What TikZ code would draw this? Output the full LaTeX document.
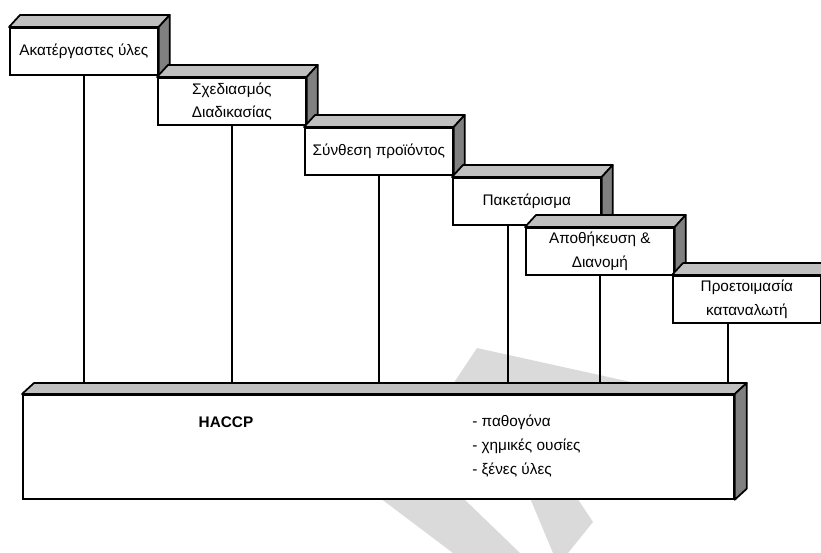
\documentclass[tikz,border=0pt]{standalone}
\usepackage{fontspec}
\setmainfont{Liberation Sans}
\usepackage{xcolor}
\usetikzlibrary{calc}

\definecolor{topgray}{RGB}{192,192,192}
\definecolor{sidegray}{RGB}{128,128,128}
\definecolor{markgray}{RGB}{218,218,218}

\tikzset{
  stepbox/.style={draw, line width=1.3pt, fill=white, minimum width=111pt, minimum height=35.25pt,
    inner sep=0pt, align=center, anchor=north west, font=\fontsize{11.5}{17.5}\selectfont},
  topface/.style={draw, line width=1.3pt, fill=topgray, line join=round},
  sideface/.style={draw, line width=1.3pt, fill=sidegray, line join=round},
  stem/.style={line width=1pt}
}

\begin{document}
\begin{tikzpicture}[x=0.75pt, y=-0.75pt]
        \newcommand{\stairdx}{11}
        \newcommand{\stairdy}{-12}
        \newcommand{\stairfaces}[3]{%
          \draw[topface] (#1.north west) -- ++(#2,#3) -- ($(#1.north east)+(#2,#3)$) -- (#1.north east) -- cycle;
          \draw[sideface] (#1.north east) -- ++(#2,#3) -- ($(#1.south east)+(#2,#3)$) -- (#1.south east) -- cycle;}
        \clip (0,0) rectangle (821,553);
        % watermark
        \fill[markgray] (453,384) -- (477,348) -- (640,384) -- cycle;
        \fill[markgray] (380,498) -- (463,498) -- (520,553) -- (453,553) -- cycle;
        \fill[markgray] (530,498) -- (577,498) -- (593,522) -- (568,553) -- (553,553) -- cycle;
        \node[draw, line width=1.3pt, fill=white, anchor=north west, minimum width=533.25pt,
          minimum height=78pt, inner sep=0pt] (haccp) at (22,394) {};
        \stairfaces{haccp}{12}{-11}
        \coordinate (haccpback) at ($(haccp.north)+(0,-11)$);
        \node[font=\fontsize{11.5}{17.5}\selectfont\bfseries] (haccplabel) at (226,422) {HACCP};
        \node[anchor=west, align=left, inner sep=0pt, font=\fontsize{11.5}{18}\selectfont] (hazards) at (472,446)
          {- παθογόνα\\- χημικές ουσίες\\- ξένες ύλες};
        \node[stepbox] (rawmat) at (9,27) {Ακατέργαστες ύλες};
        \stairfaces{rawmat}{\stairdx}{\stairdy}
        \node[stepbox] (design) at (157,77) {Σχεδιασμός\\Διαδικασίας};
        \stairfaces{design}{\stairdx}{\stairdy}
        \node[stepbox] (compose) at (304,127) {Σύνθεση προϊόντος};
        \stairfaces{compose}{\stairdx}{\stairdy}
        \node[stepbox] (packing) at (452,177) {Πακετάρισμα};
        \stairfaces{packing}{\stairdx}{\stairdy}
        \node[stepbox] (storage) at (525,227) {Αποθήκευση \&\\Διανομή};
        \stairfaces{storage}{\stairdx}{\stairdy}
        \node[stepbox] (prepare) at (672,275) {Προετοιμασία\\καταναλωτή};
        \stairfaces{prepare}{\stairdx}{\stairdy}
        \foreach \stairname/\stairshift in {rawmat/0, design/0, compose/0, packing/-19, storage/0, prepare/-19}
          \draw[stem] ($(\stairname.south)+(\stairshift,0)$) coordinate (stemtop) -- (stemtop |- haccpback);
    \end{tikzpicture}
\end{document}
